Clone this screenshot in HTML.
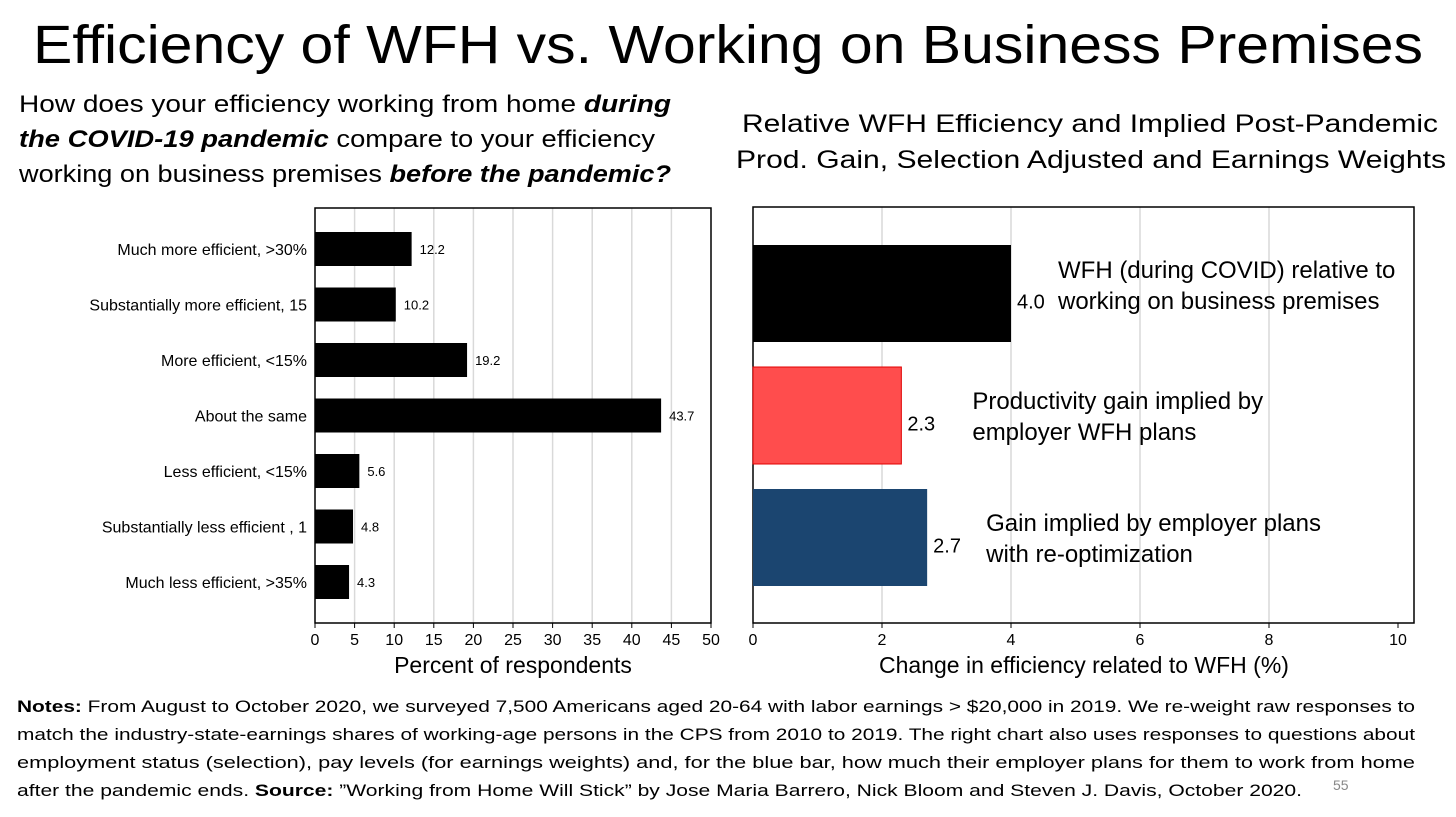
<!DOCTYPE html>
<html><head><meta charset="utf-8"><style>
html,body{margin:0;padding:0;background:#fff}
svg{display:block;font-family:"Liberation Sans",sans-serif}
</style></head><body>
<svg id="c" width="1456" height="817" viewBox="0 0 1456 817" xmlns="http://www.w3.org/2000/svg">
<text x="33" y="63" font-size="54" textLength="1390" lengthAdjust="spacingAndGlyphs">Efficiency of WFH vs. Working on Business Premises</text>
<g font-size="24">
<text x="19" y="112" textLength="652" lengthAdjust="spacingAndGlyphs">How does your efficiency working from home <tspan font-weight="bold" font-style="italic">during</tspan></text>
<text x="19" y="147" textLength="636" lengthAdjust="spacingAndGlyphs"><tspan font-weight="bold" font-style="italic">the COVID-19 pandemic</tspan> compare to your efficiency</text>
<text x="19" y="182" textLength="652" lengthAdjust="spacingAndGlyphs">working on business premises <tspan font-weight="bold" font-style="italic">before the pandemic?</tspan></text>
</g>
<g font-size="25">
<text x="742" y="132" textLength="696" lengthAdjust="spacingAndGlyphs">Relative WFH Efficiency and Implied Post-Pandemic</text>
<text x="736" y="168" textLength="710" lengthAdjust="spacingAndGlyphs">Prod. Gain, Selection Adjusted and Earnings Weights</text>
</g>
<g id="left"></g>
<g id="right"></g>
<g font-size="17">
<text x="17" y="712" textLength="1398" lengthAdjust="spacingAndGlyphs"><tspan font-weight="bold">Notes:</tspan> From August to October 2020, we surveyed 7,500 Americans aged 20-64 with labor earnings &gt; $20,000 in 2019. We re-weight raw responses to</text>
<text x="17" y="740" textLength="1398" lengthAdjust="spacingAndGlyphs">match the industry-state-earnings shares of working-age persons in the CPS from 2010 to 2019. The right chart also uses responses to questions about</text>
<text x="17" y="768" textLength="1398" lengthAdjust="spacingAndGlyphs">employment status (selection), pay levels (for earnings weights) and, for the blue bar, how much their employer plans for them to work from home</text>
<text x="17" y="796" textLength="1285" lengthAdjust="spacingAndGlyphs">after the pandemic ends. <tspan font-weight="bold">Source:</tspan> ”Working from Home Will Stick” by Jose Maria Barrero, Nick Bloom and Steven J. Davis, October 2020.</text>
<text x="1333" y="790" font-size="14" fill="#888">55</text>
</g>
</svg>
<script>
const leftCategories = ["Much more efficient, >30%","Substantially more efficient, 15","More efficient, <15%","About the same","Less efficient, <15%","Substantially less efficient , 1","Much less efficient, >35%"];
const leftValues = [12.2,10.2,19.2,43.7,5.6,4.8,4.3];
const leftTicks = [0,5,10,15,20,25,30,35,40,45,50];
const rightLabels = [["WFH (during COVID) relative to","working on business premises"],["Productivity gain implied by","employer WFH plans"],["Gain implied by employer plans","with re-optimization"]];
const rightValues = [4.0,2.3,2.7];
const rightColors = ["#000000","#ff4d4d","#1b4570"];
const rightTicks = [0,2,4,6,8,10];
const labelGap = [47,71,59];
const NS="http://www.w3.org/2000/svg";
function mk(p,t,a,txt){const e=document.createElementNS(NS,t);for(const k in a)e.setAttribute(k,a[k]);if(txt!=null)e.textContent=txt;p.appendChild(e);return e;}
// left
const L=document.getElementById('left');
const lx=v=>315+v*(711-315)/50, lTop=208,lBot=623;
const lband=55.5;
leftTicks.forEach(t=>{
 if(t>0&&t<50){const g=mk(L,'line',{x1:lx(t),x2:lx(t),y1:lTop,y2:lBot,stroke:'#d9d9d9','stroke-width':1.5});
 }
 const tk=mk(L,'line',{x1:lx(t),x2:lx(t),y1:lBot,y2:lBot+5,stroke:'#000'});
 
 const tl=mk(L,'text',{x:lx(t),y:lBot+22,'font-size':16,'text-anchor':'middle'},String(t));
 
});
const lf=mk(L,'rect',{x:315,y:lTop,width:711-315,height:lBot-lTop,fill:'none',stroke:'#000','stroke-width':1.5});

leftCategories.forEach((c,i)=>{
 const cy=249+lband*i;
 const b=mk(L,'rect',{x:315,y:cy-17,width:lx(leftValues[i])-315,height:34,fill:'#000'});
 
 const v=mk(L,'text',{x:lx(leftValues[i])+8,y:cy+5,'font-size':13},leftValues[i].toFixed(1));
 
 const cl=mk(L,'text',{x:307,y:cy+6,'font-size':16,'text-anchor':'end'},c);
 
});
const lxt=mk(L,'text',{x:513,y:673,'font-size':23,'text-anchor':'middle'},'Percent of respondents');

// right
const R=document.getElementById('right');
const rx=v=>753+v*(1398-753)/10, rTop=207,rBot=623;
rightTicks.forEach(t=>{
 if(t>0&&t<10){const g=mk(R,'line',{x1:rx(t),x2:rx(t),y1:rTop,y2:rBot,stroke:'#d9d9d9','stroke-width':1.5});
 }
 const tk=mk(R,'line',{x1:rx(t),x2:rx(t),y1:rBot,y2:rBot+5,stroke:'#000'});
 
 const tl=mk(R,'text',{x:rx(t),y:rBot+22,'font-size':16,'text-anchor':'middle'},String(t));
 
});
const rf=mk(R,'rect',{x:753,y:rTop,width:1414-753,height:rBot-rTop,fill:'none',stroke:'#000','stroke-width':1.5});

const rband=122;
rightValues.forEach((val,i)=>{
 const y0=245+rband*i, h=97;
 const b=mk(R,'rect',{x:753,y:y0,width:rx(val)-753,height:h,fill:rightColors[i],stroke:i==1?'#e00000':'none'});
 
 const v=mk(R,'text',{x:rx(val)+6,y:y0+h/2+15,'font-size':20},val.toFixed(1));
 
 const lx0=rx(val)+labelGap[i];
 rightLabels[i].forEach((ln,j)=>{
  const t=mk(R,'text',{x:lx0,y:y0+33+j*31+(i==0?0:9),'font-size':24},ln);
  
 });
});
const rxt=mk(R,'text',{x:1084,y:673,'font-size':23,'text-anchor':'middle'},'Change in efficiency related to WFH (%)');

</script>
</body></html>
